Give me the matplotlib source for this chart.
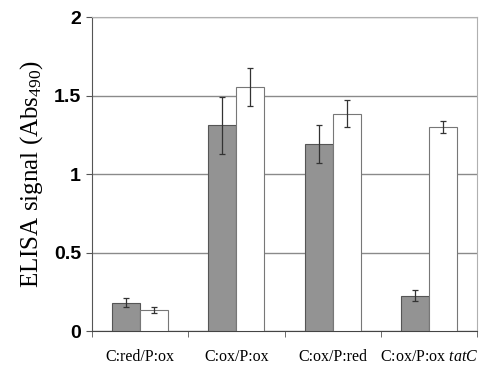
import numpy as np
import matplotlib.pyplot as plt

plt.rcParams['mathtext.fontset'] = 'custom'
plt.rcParams['mathtext.rm'] = 'Liberation Serif'
plt.rcParams['mathtext.it'] = 'Liberation Serif:italic'

categories = ['C:red/P:ox', 'C:ox/P:ox', 'C:ox/P:red', 'C:ox/P:ox $\\mathit{tatC}$']
gray_vals = [0.18, 1.31, 1.19, 0.225]
gray_err = [0.03, 0.18, 0.12, 0.035]
white_vals = [0.134, 1.555, 1.385, 1.30]
white_err = [0.02, 0.12, 0.085, 0.04]
yticks = [0, 0.5, 1, 1.5, 2]

fig = plt.figure(figsize=(4.9, 3.68), dpi=100)
ax = fig.add_axes([92/490, 1 - 331/368, (477-92)/490, (331-17)/368])

x = np.arange(len(categories))
w = 0.29
ax.bar(x - w/2, gray_vals, w, color='#939393', edgecolor='#555555', linewidth=0.8,
       yerr=gray_err, error_kw=dict(ecolor='#333333', elinewidth=0.9, capsize=2, capthick=0.9), zorder=3)
ax.bar(x + w/2, white_vals, w, color='white', edgecolor='#777777', linewidth=0.8,
       yerr=white_err, error_kw=dict(ecolor='#333333', elinewidth=0.9, capsize=2, capthick=0.9), zorder=3)

ax.set_xlim(-0.5, 3.5)
ax.set_ylim(0, 2)
ax.set_yticks(yticks)
ax.set_yticklabels(['0', '0.5', '1', '1.5', '2'], fontsize=14, fontweight='bold', family='Liberation Sans')
ax.yaxis.grid(True, color='#8a8a8a', linewidth=1.0, zorder=0)
ax.set_axisbelow(True)

ax.set_xticks(x)
ax.set_xticklabels(categories, family='Liberation Serif', fontsize=11.5)
ax.tick_params(axis='x', length=0, pad=13)
ax.set_xticks(np.arange(-0.5, 4, 1), minor=True)
ax.tick_params(axis='x', which='minor', length=4, color='#555555', direction='out')
ax.tick_params(axis='y', length=4, color='#555555', direction='out', pad=4)

ax.set_ylabel('ELISA signal (Abs$_{490}$)', family='Liberation Serif', fontsize=18, labelpad=6)
for s in ['top', 'right']:
    ax.spines[s].set_color('#b0b0b0')
ax.spines['left'].set_color('#555555')
ax.spines['bottom'].set_color('#444444')

fig.savefig('out.png', dpi=100)
